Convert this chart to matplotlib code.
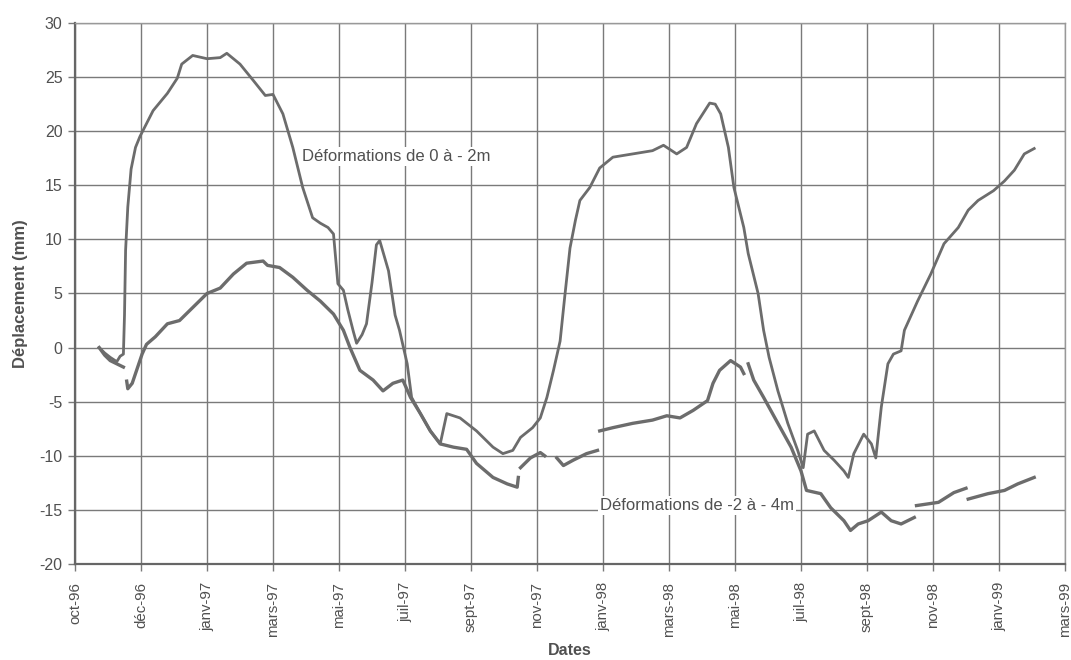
import numpy as np
import matplotlib
matplotlib.use("Agg")
import matplotlib.pyplot as plt

plt.rcParams['font.family'] = ['Liberation Sans', 'DejaVu Sans']

# x axis: days counted from the first tick (oct-96); one tick every 60 days
tick_labels = ["oct-96", "déc-96", "janv-97", "mars-97", "mai-97", "juil-97",
               "sept-97", "nov-97", "janv-98", "mars-98", "mai-98", "juil-98",
               "sept-98", "nov-98", "janv-99", "mars-99"]
tick_step_days = 60

# Deformation between 0 and -2 m
days_0_2 = [22, 27, 32, 38, 41, 44, 45, 46, 48, 51, 55, 59, 71, 84, 93, 97, 107,
            120, 132, 138, 150, 162, 173, 180, 189, 198, 207, 216, 223, 230, 235,
            239, 244, 248, 253, 256, 261, 265, 270, 274, 277, 281, 285, 291, 295,
            302, 306, 314, 323, 332, 335, 338, 350, 365, 380, 389, 398, 405, 416,
            423, 429, 435, 441, 445, 450, 455, 459, 468, 477, 489, 507, 525, 535,
            547, 556, 565, 577, 582, 587, 594, 599, 608, 612, 621, 626, 631, 639,
            648, 657, 662, 666, 672, 681, 690, 699, 703, 708, 717, 724, 728, 733,
            739, 744, 751, 754, 766, 778, 790, 803, 812, 821, 835, 845, 854, 863,
            872]
disp_0_2 = [0.0, -0.5, -0.9, -1.3, -0.8, -0.6, 3.0, 9.0, 13.0, 16.5, 18.5, 19.5,
            21.9, 23.5, 24.9, 26.2, 27.0, 26.7, 26.8, 27.2, 26.2, 24.7, 23.3, 23.4,
            21.6, 18.5, 14.8, 12.0, 11.5, 11.1, 10.5, 5.9, 5.3, 3.5, 1.5, 0.4, 1.2,
            2.2, 6.0, 9.5, 9.9, 8.5, 7.1, 3.0, 1.6, -1.5, -4.6, -6.1, -7.7, -8.9,
            -7.5, -6.1, -6.5, -7.7, -9.2, -9.8, -9.5, -8.3, -7.4, -6.5, -4.6, -2.1,
            0.6, 4.5, 9.2, 11.8, 13.6, 14.8, 16.6, 17.6, 17.9, 18.2, 18.7, 17.9,
            18.5, 20.7, 22.6, 22.5, 21.6, 18.5, 14.8, 11.1, 8.7, 5.0, 1.6, -0.9,
            -4.0, -7.0, -9.5, -11.1, -8.0, -7.7, -9.5, -10.4, -11.4, -12.0, -9.8,
            -8.0, -8.9, -10.2, -5.5, -1.5, -0.6, -0.3, 1.6, 4.3, 6.8, 9.6, 11.1,
            12.7, 13.6, 14.5, 15.4, 16.4, 17.9, 18.4]

# Deformation between -2 and -4 m (NaN marks gaps in the record)
nan = np.nan
days_2_4 = [22, 27, 32, 38, 44, nan,
            47, 48, 52, 56, 61, 65, 73, 84, 95, 107, 120, 132, 144, 156, 171, 175,
            186, 198, 211, 223, 235, 244, 250, 259, 271, 280, 289, 298, 305, 314,
            323, 332, 344, 356, 365, 380, 393, 402, 403, nan,
            405, 414, 423, 427, nan,
            438, 444, 453, 465, 475, nan,
            477, 489, 507, 525, 538, 550, 562, 575, 580, 586, 596, 605, 608, nan,
            612, 617, 626, 639, 651, 660, 665, 678, 687, 699, 705, 712, 721, 733,
            742, 751, 763, nan,
            765, 785, 799, 810, nan,
            812, 830, 845, 857, 872]
disp_2_4 = [0.0, -0.7, -1.2, -1.5, -1.8, nan,
            -3.1, -3.8, -3.3, -2.1, -0.6, 0.3, 1.0, 2.2, 2.5, 3.7, 5.0, 5.5, 6.8,
            7.8, 8.0, 7.6, 7.4, 6.5, 5.3, 4.3, 3.1, 1.6, 0.0, -2.1, -3.0, -4.0,
            -3.3, -3.0, -4.6, -6.1, -7.7, -8.9, -9.2, -9.4, -10.7, -12.0, -12.6,
            -12.9, -12.0, nan,
            -11.1, -10.2, -9.7, -10.0, nan,
            -10.2, -10.9, -10.4, -9.8, -9.5, nan,
            -7.7, -7.4, -7.0, -6.7, -6.3, -6.5, -5.8, -4.9, -3.3, -2.1, -1.2, -1.8,
            -2.4, nan,
            -1.5, -3.0, -4.6, -7.0, -9.2, -11.4, -13.2, -13.5, -14.8, -16.0, -16.9,
            -16.3, -16.0, -15.2, -16.0, -16.3, -15.7, nan,
            -14.6, -14.3, -13.4, -13.0, nan,
            -14.0, -13.5, -13.2, -12.6, -12.0]

line_color = "#6c6c6c"
grid_color = "#7a7a7a"
text_color = "#505050"

fig = plt.figure(figsize=(10.71, 6.60), dpi=100)
ax = fig.add_axes([75 / 1071, 1 - 564 / 660, 990 / 1071, 541 / 660])

ax.plot(days_0_2, disp_0_2, color=line_color, lw=2.0, solid_joinstyle="round")
ax.plot(days_2_4, disp_2_4, color=line_color, lw=2.4, solid_joinstyle="round")

n_ticks = len(tick_labels)
ax.set_xlim(0, (n_ticks - 1) * tick_step_days)
ax.set_ylim(-20, 30)
ax.set_xticks(np.arange(n_ticks) * tick_step_days)
ax.set_xticklabels(tick_labels, rotation=90, fontsize=10.8, color=text_color)
ax.set_yticks(np.arange(-20, 31, 5))
ax.set_yticklabels([str(v) for v in range(-20, 31, 5)], fontsize=11.5,
                   color=text_color)
ax.grid(True, color=grid_color, lw=1.0)
ax.set_axisbelow(True)
ax.tick_params(axis="y", length=5, width=1, color=grid_color, pad=4)
ax.tick_params(axis="x", length=5, width=1, color=grid_color, pad=8)

for side in ("top", "right"):
    ax.spines[side].set_color("#999999")
    ax.spines[side].set_linewidth(1.0)
for side in ("left", "bottom"):
    ax.spines[side].set_color("#666666")
    ax.spines[side].set_linewidth(1.6)

ax.set_ylabel("Déplacement (mm)", fontsize=12, fontweight="bold",
              color=text_color, labelpad=8)
ax.set_xlabel("Dates", fontsize=11.5, fontweight="bold", color=text_color,
              labelpad=4)

box = dict(facecolor="white", edgecolor="none", pad=1.5)
ax.text(206, 17.7, "Déformations de 0 à - 2m", fontsize=12, color=text_color,
        ha="left", va="center", bbox=box)
ax.text(477, -14.6, "Déformations de -2 à - 4m", fontsize=12, color=text_color,
        ha="left", va="center", bbox=box)

fig.savefig("out.png", dpi=100, facecolor="white")
